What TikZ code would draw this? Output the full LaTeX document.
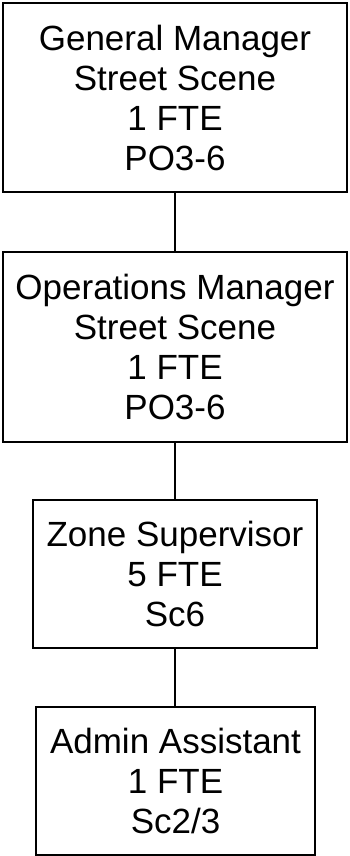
\documentclass[tikz,border=0pt]{standalone}
\usepackage{fontspec}
\setmainfont{Liberation Sans}
\usetikzlibrary{positioning}

\begin{document}
\begin{tikzpicture}[x=1pt,y=-1pt,
    post/.style={draw, line width=2pt, align=center, inner sep=0pt,
                 font=\fontsize{35}{40}\selectfont}]
     \useasboundingbox (0,0) rectangle (349,856);

     \node [post, minimum width=344pt, minimum height=189pt] (gm) at (175,97.5)
        {General Manager\\Street Scene\\1 FTE\\PO3-6};
     \node [post, minimum width=344pt, minimum height=190pt] (om) at (175,347)
        {Operations Manager\\Street Scene\\1 FTE\\PO3-6};
     \node [post, minimum width=284pt, minimum height=148pt] (zs) at (175,574)
        {Zone Supervisor\\5 FTE\\Sc6};
     \node [post, minimum width=279pt, minimum height=148pt] (aa) at (175.5,781)
        {Admin Assistant\\1 FTE\\Sc2/3};

     \draw [line width=2pt] (gm.south) -- (om.north);
     \draw [line width=2pt] (om.south) -- (zs.north);
     \draw [line width=2pt] (zs.south) -- (aa.north -| zs.south);
\end{tikzpicture}
\end{document}
